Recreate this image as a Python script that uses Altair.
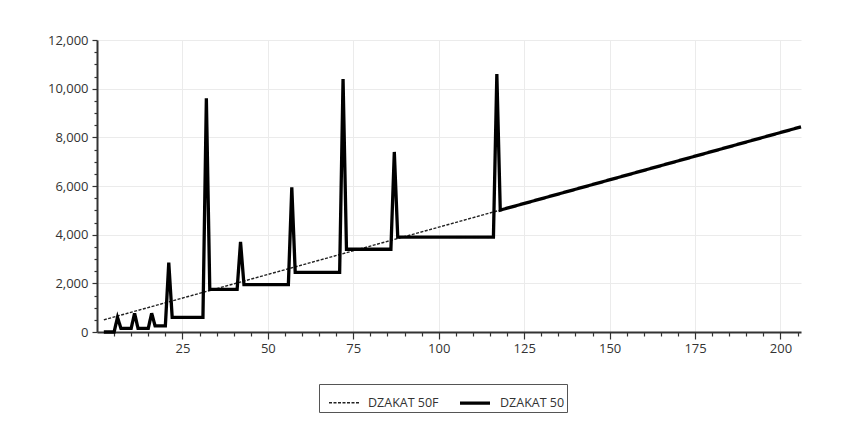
import altair as alt
import pandas as pd

# Series names
series_names = ["DZAKAT 50F", "DZAKAT 50"]

# DZAKAT_50F: straight reference line (end points)
x_50f = [2, 206]
y_50f = [500, 8430]

# DZAKAT_50: step series with spikes (break points)
x_50 = [2, 5, 6, 7, 10, 11, 12, 15, 16, 17, 20, 21, 22, 31, 32, 33, 41, 42, 43,
        56, 57, 58, 71, 72, 73, 86, 87, 88, 116, 117, 118, 206]
y_50 = [0, 0, 600, 150, 150, 770, 150, 150, 770, 250, 250, 2850, 600, 600, 9600,
        1750, 1750, 3700, 1950, 1950, 5950, 2450, 2450, 10400, 3400, 3400, 7400,
        3900, 3900, 10600, 5010, 8430]

# Axis tick values
x_ticks = list(range(5, 206, 5))
y_ticks = list(range(0, 12001, 500))

df = pd.concat([
    pd.DataFrame({"x": x_50f, "y": y_50f, "series": series_names[0]}),
    pd.DataFrame({"x": x_50, "y": y_50, "series": series_names[1]}),
])

font = "Open Sans"

x_axis = alt.Axis(
    values=x_ticks,
    labelExpr="datum.value % 25 === 0 ? datum.label : ''",
    title=None,
    grid=True,
    gridColor="#ebebeb",
    gridOpacity={"condition": {"test": "datum.value % 25 === 0", "value": 1}, "value": 0},
    tickSize={"condition": {"test": "datum.value % 25 === 0", "value": 7}, "value": 4},
    tickColor="#333",
    tickWidth=1.2,
    domainColor="#333",
    domainWidth=2,
    labelFont=font,
    labelFontSize=13,
    labelColor="#333",
    labelPadding=3,
)

y_axis = alt.Axis(
    values=y_ticks,
    labelExpr="datum.value % 2000 === 0 ? format(datum.value, ',') : ''",
    title=None,
    grid=True,
    gridColor="#ebebeb",
    gridOpacity={"condition": {"test": "datum.value % 2000 === 0", "value": 1}, "value": 0},
    tickSize={"condition": {"test": "datum.value % 2000 === 0", "value": 5}, "value": 3},
    tickColor="#333",
    tickWidth=1.2,
    domainColor="#333",
    domainWidth=2,
    labelFont=font,
    labelFontSize=13,
    labelColor="#333",
    labelPadding=4,
)

legend = alt.Legend(
    title=None,
    orient="none",
    legendX=222,
    legendY=344,
    direction="horizontal",
    symbolType="stroke",
    symbolSize=900,
    symbolOffset=7,
    labelFont=font,
    labelFontSize=12.5,
    labelColor="#333",
    labelExpr="datum.label + '\u00a0\u00a0'",
    strokeColor="#555",
    fillColor="white",
    padding=2,
    columnPadding=12,
    labelOffset=8,
)

chart = alt.Chart(df).mark_line(strokeJoin="miter").encode(
    x=alt.X("x:Q", scale=alt.Scale(domain=[0, 206], nice=False, zero=False), axis=x_axis),
    y=alt.Y("y:Q", scale=alt.Scale(domain=[0, 12000], nice=False), axis=y_axis),
    color=alt.Color("series:N", scale=alt.Scale(domain=series_names, range=["#222222", "#000000"]), legend=legend),
    strokeWidth=alt.StrokeWidth("series:N", scale=alt.Scale(domain=series_names, range=[1.4, 3.3]), legend=legend),
    strokeDash=alt.StrokeDash("series:N", scale=alt.Scale(domain=series_names, range=[[3, 1.5], [1, 0]]), legend=legend),
    order=alt.Order("series:N", sort="descending"),
).properties(
    width=704,
    height=292,
    autosize=alt.AutoSizeParams(type="none"),
    padding={"left": 89, "top": 32, "right": 53, "bottom": 90},
    background="white",
).configure_view(stroke=None)

chart.save("out.html", embed_options={"renderer": "svg", "actions": False})
